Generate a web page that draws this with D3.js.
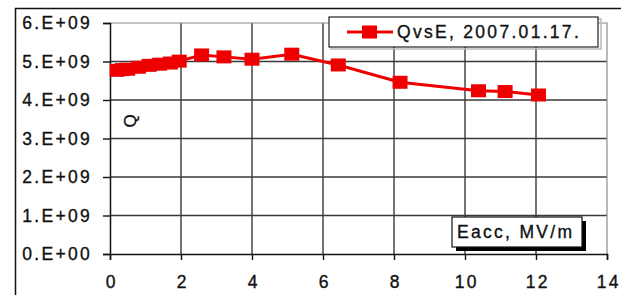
<!DOCTYPE html>
<html>
<head>
<meta charset="utf-8">
<script src="https://cdn.jsdelivr.net/npm/d3@7"></script>
<style>
  body { margin: 0; background: #fff; }
  text { font-family: Arial, "Liberation Sans", sans-serif; fill: #111; stroke: #111; stroke-width: 0.35px; }
</style>
</head>
<body>
<svg width="621" height="295"></svg>
<script>
(function (d3) {
    // data
    const eacc = [0.2, 0.35, 0.5, 0.8, 1.1, 1.4, 1.7, 1.95, 2.58, 3.21, 4.0, 5.12, 6.43, 8.17, 10.38, 11.13, 12.07];
    const qValues = [4.77e9, 4.79e9, 4.8e9, 4.85e9, 4.9e9, 4.93e9, 4.96e9, 5.01e9, 5.17e9, 5.12e9, 5.06e9, 5.19e9, 4.91e9, 4.46e9, 4.24e9, 4.22e9, 4.13e9];
    const xTicks = [0, 2, 4, 6, 8, 10, 12, 14];
    const yTicks = [0, 1e9, 2e9, 3e9, 4e9, 5e9, 6e9];
    const yTickLabels = ['0.E+00', '1.E+09', '2.E+09', '3.E+09', '4.E+09', '5.E+09', '6.E+09'];
    const seriesName = 'QvsE, 2007.01.17.';
    const xTitle = 'Eacc, MV/m';
    const yTitle = 'Q';

    const svg = d3.select('svg');
    const red = '#ee0000';
    const fs = '17.5px';
    const ls = '2.3px';

    const x = d3.scaleLinear().domain([0, 14]).range([110, 607]);
    const y = d3.scaleLinear().domain([0, 6e9]).range([254, 23]);

    // outer frame
    svg.append('path')
        .attr('d', 'M15.5,295 L15.5,8.5 L621,8.5')
        .attr('fill', 'none')
        .attr('stroke', '#111')
        .attr('stroke-width', 1.5);

    // grid
    const grid = svg.append('g');
    grid.selectAll('.vg').data(xTicks.filter(d => d > 0 && d < 14)).enter()
        .append('line')
        .attr('x1', d => x(d)).attr('x2', d => x(d))
        .attr('y1', y(6e9)).attr('y2', y(0))
        .attr('stroke', '#3a3a3a').attr('stroke-width', 1.4);
    grid.selectAll('.hg').data(yTicks.filter(d => d > 0 && d < 6e9)).enter()
        .append('line')
        .attr('x1', x(0)).attr('x2', x(14))
        .attr('y1', d => y(d)).attr('y2', d => y(d))
        .attr('stroke', '#3a3a3a').attr('stroke-width', 1.4);
    // plot border top/right
    svg.append('path')
        .attr('d', `M${x(0)},${y(6e9)} L${x(14)},${y(6e9)} L${x(14)},${y(0)}`)
        .attr('fill', 'none')
        .attr('stroke', '#8a8a8a')
        .attr('stroke-width', 1.2);

    // axes
    const xAxis = d3.axisBottom(x).tickValues(xTicks).tickSize(6).tickFormat(d3.format('d'));
    const gx = svg.append('g')
        .attr('transform', `translate(0, ${y(0)})`)
        .call(xAxis);
    gx.select('.domain').attr('stroke', '#111').attr('stroke-width', 1.5);
    gx.selectAll('.tick line').attr('stroke', '#111').attr('stroke-width', 1.4);
    gx.selectAll('.tick text')
        .attr('y', 22)
        .attr('dx', '0.07em')
        .style('font-size', fs)
        .style('letter-spacing', ls)
        .attr('fill', '#111');

    const yAxis = d3.axisLeft(y).tickValues(yTicks).tickSize(7)
        .tickFormat((d, i) => yTickLabels[i]);
    const gy = svg.append('g')
        .attr('transform', `translate(${x(0)}, 0)`)
        .call(yAxis);
    gy.select('.domain').attr('stroke', '#111').attr('stroke-width', 1.5);
    gy.selectAll('.tick line').attr('stroke', '#111').attr('stroke-width', 1.4);
    gy.selectAll('.tick text')
        .attr('x', -18)
        .style('font-size', fs)
        .style('letter-spacing', ls)
        .attr('fill', '#111');
    svg.selectAll('.tick text').attr('font-family', null);

    // series
    const line = d3.line().x((d, i) => x(eacc[i])).y(d => y(d));
    svg.append('path')
        .datum(qValues)
        .attr('d', line)
        .attr('fill', 'none')
        .attr('stroke', red)
        .attr('stroke-width', 3);
    svg.selectAll('.pt').data(qValues).enter()
        .append('rect')
        .attr('x', (d, i) => x(eacc[i]) - 7.5)
        .attr('y', d => y(d) - 6.5)
        .attr('width', 15)
        .attr('height', 13)
        .attr('fill', red);

    // y title (rotated Q)
    svg.append('text')
        .attr('transform', 'translate(136, 121) rotate(-90)')
        .attr('text-anchor', 'middle')
        .style('font-size', '17px')
        .text(yTitle);

    // legend
    const lg = svg.append('g');
    lg.append('rect')
        .attr('x', 331).attr('y', 19).attr('width', 270).attr('height', 30)
        .attr('fill', 'none').attr('stroke', '#bbb').attr('stroke-width', 1.5);
    lg.append('rect')
        .attr('x', 329).attr('y', 17).attr('width', 269).attr('height', 30)
        .attr('fill', '#fff').attr('stroke', '#222').attr('stroke-width', 1.2);
    lg.append('line')
        .attr('x1', 347).attr('x2', 393).attr('y1', 32).attr('y2', 32)
        .attr('stroke', red).attr('stroke-width', 3);
    lg.append('rect')
        .attr('x', 362).attr('y', 25.5).attr('width', 15).attr('height', 13)
        .attr('fill', red);
    lg.append('text')
        .attr('x', 397).attr('y', 38)
        .style('font-size', fs)
        .style('letter-spacing', ls)
        .text(seriesName);

    // x title box with shadow
    const tb = svg.append('g');
    tb.append('rect')
        .attr('x', 456).attr('y', 221).attr('width', 130).attr('height', 30)
        .attr('fill', '#000');
    tb.append('rect')
        .attr('x', 452).attr('y', 217).attr('width', 130).attr('height', 30)
        .attr('fill', '#fff').attr('stroke', '#111').attr('stroke-width', 1.2);
    tb.append('text')
        .attr('x', 457).attr('y', 238)
        .style('font-size', fs)
        .style('letter-spacing', ls)
        .text(xTitle);
}(d3));
</script>
</body>
</html>
